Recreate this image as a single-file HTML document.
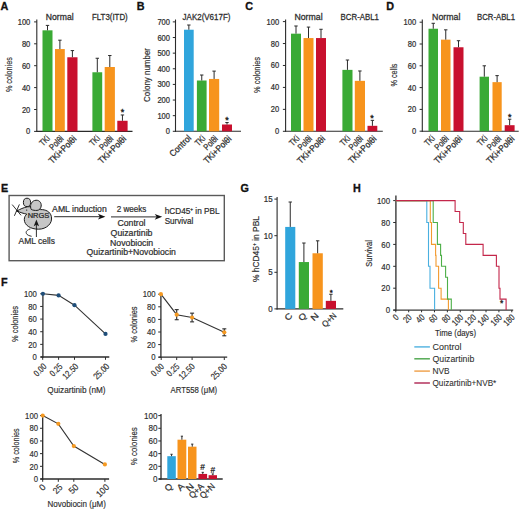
<!DOCTYPE html><html><head><meta charset="utf-8"><style>html,body{margin:0;padding:0;background:#fff;width:520px;height:510px;overflow:hidden}svg{display:block}</style></head><body><svg width="520" height="510" viewBox="0 0 520 510" font-family="'Liberation Sans', sans-serif">
<rect width="520" height="510" fill="#ffffff"/>
<text transform="translate(0.40,9.50)" font-size="10.8" text-anchor="start" font-weight="bold" fill="#111" stroke="#111" stroke-width="0.30">A</text>
<text transform="translate(136.70,9.70)" font-size="10.8" text-anchor="start" font-weight="bold" fill="#111" stroke="#111" stroke-width="0.30">B</text>
<text transform="translate(245.20,9.80)" font-size="10.8" text-anchor="start" font-weight="bold" fill="#111" stroke="#111" stroke-width="0.30">C</text>
<text transform="translate(386.20,9.60)" font-size="10.8" text-anchor="start" font-weight="bold" fill="#111" stroke="#111" stroke-width="0.30">D</text>
<text transform="translate(1.00,191.90)" font-size="10.8" text-anchor="start" font-weight="bold" fill="#111" stroke="#111" stroke-width="0.30">E</text>
<text transform="translate(1.00,286.20)" font-size="10.8" text-anchor="start" font-weight="bold" fill="#111" stroke="#111" stroke-width="0.30">F</text>
<text transform="translate(240.60,191.90)" font-size="10.8" text-anchor="start" font-weight="bold" fill="#111" stroke="#111" stroke-width="0.30">G</text>
<text transform="translate(353.00,191.90)" font-size="10.8" text-anchor="start" font-weight="bold" fill="#111" stroke="#111" stroke-width="0.30">H</text>
<line x1="36.80" y1="19.50" x2="36.80" y2="131.95" stroke="#2b2b2b" stroke-width="1.1" stroke-linecap="butt"/>
<line x1="36.30" y1="131.40" x2="132.50" y2="131.40" stroke="#2b2b2b" stroke-width="1.1" stroke-linecap="butt"/>
<line x1="34.10" y1="131.40" x2="36.80" y2="131.40" stroke="#2b2b2b" stroke-width="1" stroke-linecap="butt"/>
<text transform="translate(30.30,134.40)" font-size="8.5" text-anchor="end" font-weight="normal" fill="#2e2e2e" stroke="#2e2e2e" stroke-width="0.22" textLength="4.20" lengthAdjust="spacingAndGlyphs">0</text>
<line x1="34.10" y1="109.50" x2="36.80" y2="109.50" stroke="#2b2b2b" stroke-width="1" stroke-linecap="butt"/>
<text transform="translate(30.30,112.50)" font-size="8.5" text-anchor="end" font-weight="normal" fill="#2e2e2e" stroke="#2e2e2e" stroke-width="0.22" textLength="8.40" lengthAdjust="spacingAndGlyphs">20</text>
<line x1="34.10" y1="87.60" x2="36.80" y2="87.60" stroke="#2b2b2b" stroke-width="1" stroke-linecap="butt"/>
<text transform="translate(30.30,90.60)" font-size="8.5" text-anchor="end" font-weight="normal" fill="#2e2e2e" stroke="#2e2e2e" stroke-width="0.22" textLength="8.40" lengthAdjust="spacingAndGlyphs">40</text>
<line x1="34.10" y1="65.70" x2="36.80" y2="65.70" stroke="#2b2b2b" stroke-width="1" stroke-linecap="butt"/>
<text transform="translate(30.30,68.70)" font-size="8.5" text-anchor="end" font-weight="normal" fill="#2e2e2e" stroke="#2e2e2e" stroke-width="0.22" textLength="8.40" lengthAdjust="spacingAndGlyphs">60</text>
<line x1="34.10" y1="43.80" x2="36.80" y2="43.80" stroke="#2b2b2b" stroke-width="1" stroke-linecap="butt"/>
<text transform="translate(30.30,46.80)" font-size="8.5" text-anchor="end" font-weight="normal" fill="#2e2e2e" stroke="#2e2e2e" stroke-width="0.22" textLength="8.40" lengthAdjust="spacingAndGlyphs">80</text>
<line x1="34.10" y1="21.90" x2="36.80" y2="21.90" stroke="#2b2b2b" stroke-width="1" stroke-linecap="butt"/>
<text transform="translate(30.30,24.90)" font-size="8.5" text-anchor="end" font-weight="normal" fill="#2e2e2e" stroke="#2e2e2e" stroke-width="0.22" textLength="12.60" lengthAdjust="spacingAndGlyphs">100</text>
<rect x="42.50" y="30.33" width="10.00" height="101.07" fill="#3aaa35"/>
<line x1="47.50" y1="30.33" x2="47.50" y2="25.40" stroke="#2b2b2b" stroke-width="1.0" stroke-linecap="butt"/>
<line x1="45.80" y1="25.40" x2="49.20" y2="25.40" stroke="#2b2b2b" stroke-width="1.0" stroke-linecap="butt"/>
<rect x="55.00" y="49.06" width="9.80" height="82.34" fill="#f7941d"/>
<line x1="59.90" y1="49.06" x2="59.90" y2="40.19" stroke="#2b2b2b" stroke-width="1.0" stroke-linecap="butt"/>
<line x1="58.20" y1="40.19" x2="61.60" y2="40.19" stroke="#2b2b2b" stroke-width="1.0" stroke-linecap="butt"/>
<rect x="67.30" y="57.27" width="10.20" height="74.13" fill="#c8102e"/>
<line x1="72.40" y1="57.27" x2="72.40" y2="50.59" stroke="#2b2b2b" stroke-width="1.0" stroke-linecap="butt"/>
<line x1="70.70" y1="50.59" x2="74.10" y2="50.59" stroke="#2b2b2b" stroke-width="1.0" stroke-linecap="butt"/>
<rect x="92.40" y="72.27" width="9.80" height="59.13" fill="#3aaa35"/>
<line x1="97.30" y1="72.27" x2="97.30" y2="58.25" stroke="#2b2b2b" stroke-width="1.0" stroke-linecap="butt"/>
<line x1="95.60" y1="58.25" x2="99.00" y2="58.25" stroke="#2b2b2b" stroke-width="1.0" stroke-linecap="butt"/>
<rect x="104.70" y="67.01" width="10.20" height="64.39" fill="#f7941d"/>
<line x1="109.80" y1="67.01" x2="109.80" y2="55.52" stroke="#2b2b2b" stroke-width="1.0" stroke-linecap="butt"/>
<line x1="108.10" y1="55.52" x2="111.50" y2="55.52" stroke="#2b2b2b" stroke-width="1.0" stroke-linecap="butt"/>
<rect x="117.30" y="120.78" width="10.30" height="10.62" fill="#c8102e"/>
<line x1="122.45" y1="120.78" x2="122.45" y2="114.98" stroke="#2b2b2b" stroke-width="1.0" stroke-linecap="butt"/>
<line x1="120.75" y1="114.98" x2="124.15" y2="114.98" stroke="#2b2b2b" stroke-width="1.0" stroke-linecap="butt"/>
<text transform="translate(122.40,115.40)" font-size="9" text-anchor="middle" font-weight="normal" fill="#1a1a1a" stroke="#1a1a1a" stroke-width="0.37">*</text>
<text transform="translate(45.80,19.90)" font-size="8.8" text-anchor="start" font-weight="normal" fill="#2e2e2e" stroke="#2e2e2e" stroke-width="0.27" textLength="27.80" lengthAdjust="spacingAndGlyphs">Normal</text>
<text transform="translate(92.00,19.90)" font-size="8.8" text-anchor="start" font-weight="normal" fill="#2e2e2e" stroke="#2e2e2e" stroke-width="0.27" textLength="35.70" lengthAdjust="spacingAndGlyphs">FLT3(ITD)</text>
<text transform="translate(11.70,74.60) rotate(-90)" font-size="9.6" text-anchor="middle" font-weight="normal" fill="#2e2e2e" stroke="#2e2e2e" stroke-width="0.17" textLength="35.00" lengthAdjust="spacingAndGlyphs">% colonies</text>
<text transform="translate(50.40,139.00) rotate(-45)" font-size="9" text-anchor="end" font-weight="normal" fill="#2e2e2e" stroke="#2e2e2e" stroke-width="0.27" textLength="10.50" lengthAdjust="spacingAndGlyphs">TKi</text>
<text transform="translate(64.10,139.40) rotate(-45)" font-size="9" text-anchor="end" font-weight="normal" fill="#2e2e2e" stroke="#2e2e2e" stroke-width="0.27" textLength="16.00" lengthAdjust="spacingAndGlyphs">Pol&#952;i</text>
<text transform="translate(77.10,139.40) rotate(-45)" font-size="9" text-anchor="end" font-weight="normal" fill="#2e2e2e" stroke="#2e2e2e" stroke-width="0.27" textLength="35.30" lengthAdjust="spacingAndGlyphs">TKi+Pol&#952;i</text>
<text transform="translate(100.50,139.00) rotate(-45)" font-size="9" text-anchor="end" font-weight="normal" fill="#2e2e2e" stroke="#2e2e2e" stroke-width="0.27" textLength="10.50" lengthAdjust="spacingAndGlyphs">TKi</text>
<text transform="translate(114.00,139.40) rotate(-45)" font-size="9" text-anchor="end" font-weight="normal" fill="#2e2e2e" stroke="#2e2e2e" stroke-width="0.27" textLength="16.00" lengthAdjust="spacingAndGlyphs">Pol&#952;i</text>
<text transform="translate(126.80,139.40) rotate(-45)" font-size="9" text-anchor="end" font-weight="normal" fill="#2e2e2e" stroke="#2e2e2e" stroke-width="0.27" textLength="35.30" lengthAdjust="spacingAndGlyphs">TKi+Pol&#952;i</text>
<line x1="175.50" y1="19.50" x2="175.50" y2="131.85" stroke="#2b2b2b" stroke-width="1.1" stroke-linecap="butt"/>
<line x1="175.00" y1="131.30" x2="241.00" y2="131.30" stroke="#2b2b2b" stroke-width="1.1" stroke-linecap="butt"/>
<line x1="172.80" y1="131.30" x2="175.50" y2="131.30" stroke="#2b2b2b" stroke-width="1" stroke-linecap="butt"/>
<text transform="translate(170.00,134.30)" font-size="8.5" text-anchor="end" font-weight="normal" fill="#2e2e2e" stroke="#2e2e2e" stroke-width="0.22" textLength="4.20" lengthAdjust="spacingAndGlyphs">0</text>
<line x1="172.80" y1="115.67" x2="175.50" y2="115.67" stroke="#2b2b2b" stroke-width="1" stroke-linecap="butt"/>
<text transform="translate(170.00,118.67)" font-size="8.5" text-anchor="end" font-weight="normal" fill="#2e2e2e" stroke="#2e2e2e" stroke-width="0.22" textLength="12.60" lengthAdjust="spacingAndGlyphs">100</text>
<line x1="172.80" y1="100.04" x2="175.50" y2="100.04" stroke="#2b2b2b" stroke-width="1" stroke-linecap="butt"/>
<text transform="translate(170.00,103.04)" font-size="8.5" text-anchor="end" font-weight="normal" fill="#2e2e2e" stroke="#2e2e2e" stroke-width="0.22" textLength="12.60" lengthAdjust="spacingAndGlyphs">200</text>
<line x1="172.80" y1="84.41" x2="175.50" y2="84.41" stroke="#2b2b2b" stroke-width="1" stroke-linecap="butt"/>
<text transform="translate(170.00,87.41)" font-size="8.5" text-anchor="end" font-weight="normal" fill="#2e2e2e" stroke="#2e2e2e" stroke-width="0.22" textLength="12.60" lengthAdjust="spacingAndGlyphs">300</text>
<line x1="172.80" y1="68.78" x2="175.50" y2="68.78" stroke="#2b2b2b" stroke-width="1" stroke-linecap="butt"/>
<text transform="translate(170.00,71.78)" font-size="8.5" text-anchor="end" font-weight="normal" fill="#2e2e2e" stroke="#2e2e2e" stroke-width="0.22" textLength="12.60" lengthAdjust="spacingAndGlyphs">400</text>
<line x1="172.80" y1="53.15" x2="175.50" y2="53.15" stroke="#2b2b2b" stroke-width="1" stroke-linecap="butt"/>
<text transform="translate(170.00,56.15)" font-size="8.5" text-anchor="end" font-weight="normal" fill="#2e2e2e" stroke="#2e2e2e" stroke-width="0.22" textLength="12.60" lengthAdjust="spacingAndGlyphs">500</text>
<line x1="172.80" y1="37.52" x2="175.50" y2="37.52" stroke="#2b2b2b" stroke-width="1" stroke-linecap="butt"/>
<text transform="translate(170.00,40.52)" font-size="8.5" text-anchor="end" font-weight="normal" fill="#2e2e2e" stroke="#2e2e2e" stroke-width="0.22" textLength="12.60" lengthAdjust="spacingAndGlyphs">600</text>
<line x1="172.80" y1="21.89" x2="175.50" y2="21.89" stroke="#2b2b2b" stroke-width="1" stroke-linecap="butt"/>
<text transform="translate(170.00,24.89)" font-size="8.5" text-anchor="end" font-weight="normal" fill="#2e2e2e" stroke="#2e2e2e" stroke-width="0.22" textLength="12.60" lengthAdjust="spacingAndGlyphs">700</text>
<rect x="184.00" y="29.71" width="9.70" height="101.59" fill="#30a5dc"/>
<line x1="188.85" y1="29.71" x2="188.85" y2="25.02" stroke="#2b2b2b" stroke-width="1.0" stroke-linecap="butt"/>
<line x1="187.15" y1="25.02" x2="190.55" y2="25.02" stroke="#2b2b2b" stroke-width="1.0" stroke-linecap="butt"/>
<rect x="196.90" y="80.50" width="9.70" height="50.80" fill="#3aaa35"/>
<line x1="201.75" y1="80.50" x2="201.75" y2="75.03" stroke="#2b2b2b" stroke-width="1.0" stroke-linecap="butt"/>
<line x1="200.05" y1="75.03" x2="203.45" y2="75.03" stroke="#2b2b2b" stroke-width="1.0" stroke-linecap="butt"/>
<rect x="209.00" y="78.94" width="10.20" height="52.36" fill="#f7941d"/>
<line x1="214.10" y1="78.94" x2="214.10" y2="71.12" stroke="#2b2b2b" stroke-width="1.0" stroke-linecap="butt"/>
<line x1="212.40" y1="71.12" x2="215.80" y2="71.12" stroke="#2b2b2b" stroke-width="1.0" stroke-linecap="butt"/>
<rect x="222.00" y="124.50" width="10.00" height="6.80" fill="#c8102e"/>
<line x1="227.00" y1="124.50" x2="227.00" y2="122.55" stroke="#2b2b2b" stroke-width="1.0" stroke-linecap="butt"/>
<line x1="225.30" y1="122.55" x2="228.70" y2="122.55" stroke="#2b2b2b" stroke-width="1.0" stroke-linecap="butt"/>
<text transform="translate(227.00,123.00)" font-size="9" text-anchor="middle" font-weight="normal" fill="#1a1a1a" stroke="#1a1a1a" stroke-width="0.37">*</text>
<text transform="translate(182.60,19.90)" font-size="8.8" text-anchor="start" font-weight="normal" fill="#2e2e2e" stroke="#2e2e2e" stroke-width="0.27" textLength="47.80" lengthAdjust="spacingAndGlyphs">JAK2(V617F)</text>
<text transform="translate(149.80,75.00) rotate(-90)" font-size="9.4" text-anchor="middle" font-weight="normal" fill="#2e2e2e" stroke="#2e2e2e" stroke-width="0.17" textLength="54.00" lengthAdjust="spacingAndGlyphs">Colony number</text>
<text transform="translate(191.80,138.60) rotate(-45)" font-size="9" text-anchor="end" font-weight="normal" fill="#2e2e2e" stroke="#2e2e2e" stroke-width="0.27" textLength="26.50" lengthAdjust="spacingAndGlyphs">Control</text>
<text transform="translate(205.80,139.00) rotate(-45)" font-size="9" text-anchor="end" font-weight="normal" fill="#2e2e2e" stroke="#2e2e2e" stroke-width="0.27" textLength="10.50" lengthAdjust="spacingAndGlyphs">TKi</text>
<text transform="translate(218.40,139.40) rotate(-45)" font-size="9" text-anchor="end" font-weight="normal" fill="#2e2e2e" stroke="#2e2e2e" stroke-width="0.27" textLength="16.00" lengthAdjust="spacingAndGlyphs">Pol&#952;i</text>
<text transform="translate(232.10,139.40) rotate(-45)" font-size="9" text-anchor="end" font-weight="normal" fill="#2e2e2e" stroke="#2e2e2e" stroke-width="0.27" textLength="35.30" lengthAdjust="spacingAndGlyphs">TKi+Pol&#952;i</text>
<line x1="285.60" y1="19.50" x2="285.60" y2="131.85" stroke="#2b2b2b" stroke-width="1.1" stroke-linecap="butt"/>
<line x1="285.10" y1="131.30" x2="382.80" y2="131.30" stroke="#2b2b2b" stroke-width="1.1" stroke-linecap="butt"/>
<line x1="282.90" y1="131.30" x2="285.60" y2="131.30" stroke="#2b2b2b" stroke-width="1" stroke-linecap="butt"/>
<text transform="translate(279.20,134.30)" font-size="8.5" text-anchor="end" font-weight="normal" fill="#2e2e2e" stroke="#2e2e2e" stroke-width="0.22" textLength="4.20" lengthAdjust="spacingAndGlyphs">0</text>
<line x1="282.90" y1="109.36" x2="285.60" y2="109.36" stroke="#2b2b2b" stroke-width="1" stroke-linecap="butt"/>
<text transform="translate(279.20,112.36)" font-size="8.5" text-anchor="end" font-weight="normal" fill="#2e2e2e" stroke="#2e2e2e" stroke-width="0.22" textLength="8.40" lengthAdjust="spacingAndGlyphs">20</text>
<line x1="282.90" y1="87.42" x2="285.60" y2="87.42" stroke="#2b2b2b" stroke-width="1" stroke-linecap="butt"/>
<text transform="translate(279.20,90.42)" font-size="8.5" text-anchor="end" font-weight="normal" fill="#2e2e2e" stroke="#2e2e2e" stroke-width="0.22" textLength="8.40" lengthAdjust="spacingAndGlyphs">40</text>
<line x1="282.90" y1="65.48" x2="285.60" y2="65.48" stroke="#2b2b2b" stroke-width="1" stroke-linecap="butt"/>
<text transform="translate(279.20,68.48)" font-size="8.5" text-anchor="end" font-weight="normal" fill="#2e2e2e" stroke="#2e2e2e" stroke-width="0.22" textLength="8.40" lengthAdjust="spacingAndGlyphs">60</text>
<line x1="282.90" y1="43.54" x2="285.60" y2="43.54" stroke="#2b2b2b" stroke-width="1" stroke-linecap="butt"/>
<text transform="translate(279.20,46.54)" font-size="8.5" text-anchor="end" font-weight="normal" fill="#2e2e2e" stroke="#2e2e2e" stroke-width="0.22" textLength="8.40" lengthAdjust="spacingAndGlyphs">80</text>
<line x1="282.90" y1="21.60" x2="285.60" y2="21.60" stroke="#2b2b2b" stroke-width="1" stroke-linecap="butt"/>
<text transform="translate(279.20,24.60)" font-size="8.5" text-anchor="end" font-weight="normal" fill="#2e2e2e" stroke="#2e2e2e" stroke-width="0.22" textLength="12.60" lengthAdjust="spacingAndGlyphs">100</text>
<rect x="291.00" y="33.67" width="10.00" height="97.63" fill="#3aaa35"/>
<line x1="296.00" y1="33.67" x2="296.00" y2="25.99" stroke="#2b2b2b" stroke-width="1.0" stroke-linecap="butt"/>
<line x1="294.30" y1="25.99" x2="297.70" y2="25.99" stroke="#2b2b2b" stroke-width="1.0" stroke-linecap="butt"/>
<rect x="303.50" y="38.06" width="10.00" height="93.25" fill="#f7941d"/>
<line x1="308.50" y1="38.06" x2="308.50" y2="27.09" stroke="#2b2b2b" stroke-width="1.0" stroke-linecap="butt"/>
<line x1="306.80" y1="27.09" x2="310.20" y2="27.09" stroke="#2b2b2b" stroke-width="1.0" stroke-linecap="butt"/>
<rect x="316.00" y="38.06" width="10.00" height="93.25" fill="#c8102e"/>
<line x1="321.00" y1="38.06" x2="321.00" y2="29.28" stroke="#2b2b2b" stroke-width="1.0" stroke-linecap="butt"/>
<line x1="319.30" y1="29.28" x2="322.70" y2="29.28" stroke="#2b2b2b" stroke-width="1.0" stroke-linecap="butt"/>
<rect x="342.40" y="69.87" width="10.10" height="61.43" fill="#3aaa35"/>
<line x1="347.45" y1="69.87" x2="347.45" y2="60.00" stroke="#2b2b2b" stroke-width="1.0" stroke-linecap="butt"/>
<line x1="345.75" y1="60.00" x2="349.15" y2="60.00" stroke="#2b2b2b" stroke-width="1.0" stroke-linecap="butt"/>
<rect x="354.80" y="80.84" width="10.20" height="50.46" fill="#f7941d"/>
<line x1="359.90" y1="80.84" x2="359.90" y2="70.97" stroke="#2b2b2b" stroke-width="1.0" stroke-linecap="butt"/>
<line x1="358.20" y1="70.97" x2="361.60" y2="70.97" stroke="#2b2b2b" stroke-width="1.0" stroke-linecap="butt"/>
<rect x="367.50" y="125.82" width="9.80" height="5.48" fill="#c8102e"/>
<line x1="372.40" y1="125.82" x2="372.40" y2="120.33" stroke="#2b2b2b" stroke-width="1.0" stroke-linecap="butt"/>
<line x1="370.70" y1="120.33" x2="374.10" y2="120.33" stroke="#2b2b2b" stroke-width="1.0" stroke-linecap="butt"/>
<text transform="translate(372.00,121.00)" font-size="9" text-anchor="middle" font-weight="normal" fill="#1a1a1a" stroke="#1a1a1a" stroke-width="0.37">*</text>
<text transform="translate(294.40,19.90)" font-size="8.8" text-anchor="start" font-weight="normal" fill="#2e2e2e" stroke="#2e2e2e" stroke-width="0.27" textLength="28.20" lengthAdjust="spacingAndGlyphs">Normal</text>
<text transform="translate(340.60,19.90)" font-size="8.8" text-anchor="start" font-weight="normal" fill="#2e2e2e" stroke="#2e2e2e" stroke-width="0.27" textLength="38.30" lengthAdjust="spacingAndGlyphs">BCR-ABL1</text>
<text transform="translate(259.50,75.00) rotate(-90)" font-size="9.6" text-anchor="middle" font-weight="normal" fill="#2e2e2e" stroke="#2e2e2e" stroke-width="0.17" textLength="36.00" lengthAdjust="spacingAndGlyphs">% colonies</text>
<text transform="translate(300.20,139.00) rotate(-45)" font-size="9" text-anchor="end" font-weight="normal" fill="#2e2e2e" stroke="#2e2e2e" stroke-width="0.27" textLength="10.50" lengthAdjust="spacingAndGlyphs">TKi</text>
<text transform="translate(312.60,139.40) rotate(-45)" font-size="9" text-anchor="end" font-weight="normal" fill="#2e2e2e" stroke="#2e2e2e" stroke-width="0.27" textLength="16.00" lengthAdjust="spacingAndGlyphs">Pol&#952;i</text>
<text transform="translate(325.80,139.40) rotate(-45)" font-size="9" text-anchor="end" font-weight="normal" fill="#2e2e2e" stroke="#2e2e2e" stroke-width="0.27" textLength="35.30" lengthAdjust="spacingAndGlyphs">TKi+Pol&#952;i</text>
<text transform="translate(350.90,139.00) rotate(-45)" font-size="9" text-anchor="end" font-weight="normal" fill="#2e2e2e" stroke="#2e2e2e" stroke-width="0.27" textLength="10.50" lengthAdjust="spacingAndGlyphs">TKi</text>
<text transform="translate(363.60,139.40) rotate(-45)" font-size="9" text-anchor="end" font-weight="normal" fill="#2e2e2e" stroke="#2e2e2e" stroke-width="0.27" textLength="16.00" lengthAdjust="spacingAndGlyphs">Pol&#952;i</text>
<text transform="translate(377.00,139.40) rotate(-45)" font-size="9" text-anchor="end" font-weight="normal" fill="#2e2e2e" stroke="#2e2e2e" stroke-width="0.27" textLength="35.30" lengthAdjust="spacingAndGlyphs">TKi+Pol&#952;i</text>
<line x1="422.30" y1="19.50" x2="422.30" y2="131.75" stroke="#2b2b2b" stroke-width="1.1" stroke-linecap="butt"/>
<line x1="421.80" y1="131.20" x2="518.70" y2="131.20" stroke="#2b2b2b" stroke-width="1.1" stroke-linecap="butt"/>
<line x1="419.60" y1="131.20" x2="422.30" y2="131.20" stroke="#2b2b2b" stroke-width="1" stroke-linecap="butt"/>
<text transform="translate(416.20,134.20)" font-size="8.5" text-anchor="end" font-weight="normal" fill="#2e2e2e" stroke="#2e2e2e" stroke-width="0.22" textLength="4.20" lengthAdjust="spacingAndGlyphs">0</text>
<line x1="419.60" y1="109.40" x2="422.30" y2="109.40" stroke="#2b2b2b" stroke-width="1" stroke-linecap="butt"/>
<text transform="translate(416.20,112.40)" font-size="8.5" text-anchor="end" font-weight="normal" fill="#2e2e2e" stroke="#2e2e2e" stroke-width="0.22" textLength="8.40" lengthAdjust="spacingAndGlyphs">20</text>
<line x1="419.60" y1="87.60" x2="422.30" y2="87.60" stroke="#2b2b2b" stroke-width="1" stroke-linecap="butt"/>
<text transform="translate(416.20,90.60)" font-size="8.5" text-anchor="end" font-weight="normal" fill="#2e2e2e" stroke="#2e2e2e" stroke-width="0.22" textLength="8.40" lengthAdjust="spacingAndGlyphs">40</text>
<line x1="419.60" y1="65.80" x2="422.30" y2="65.80" stroke="#2b2b2b" stroke-width="1" stroke-linecap="butt"/>
<text transform="translate(416.20,68.80)" font-size="8.5" text-anchor="end" font-weight="normal" fill="#2e2e2e" stroke="#2e2e2e" stroke-width="0.22" textLength="8.40" lengthAdjust="spacingAndGlyphs">60</text>
<line x1="419.60" y1="44.00" x2="422.30" y2="44.00" stroke="#2b2b2b" stroke-width="1" stroke-linecap="butt"/>
<text transform="translate(416.20,47.00)" font-size="8.5" text-anchor="end" font-weight="normal" fill="#2e2e2e" stroke="#2e2e2e" stroke-width="0.22" textLength="8.40" lengthAdjust="spacingAndGlyphs">80</text>
<line x1="419.60" y1="22.20" x2="422.30" y2="22.20" stroke="#2b2b2b" stroke-width="1" stroke-linecap="butt"/>
<text transform="translate(416.20,25.20)" font-size="8.5" text-anchor="end" font-weight="normal" fill="#2e2e2e" stroke="#2e2e2e" stroke-width="0.22" textLength="12.60" lengthAdjust="spacingAndGlyphs">100</text>
<rect x="428.50" y="28.74" width="9.50" height="102.46" fill="#3aaa35"/>
<line x1="433.25" y1="28.74" x2="433.25" y2="23.29" stroke="#2b2b2b" stroke-width="1.0" stroke-linecap="butt"/>
<line x1="431.55" y1="23.29" x2="434.95" y2="23.29" stroke="#2b2b2b" stroke-width="1.0" stroke-linecap="butt"/>
<rect x="441.00" y="39.64" width="9.50" height="91.56" fill="#f7941d"/>
<line x1="445.75" y1="39.64" x2="445.75" y2="29.83" stroke="#2b2b2b" stroke-width="1.0" stroke-linecap="butt"/>
<line x1="444.05" y1="29.83" x2="447.45" y2="29.83" stroke="#2b2b2b" stroke-width="1.0" stroke-linecap="butt"/>
<rect x="453.50" y="47.27" width="10.00" height="83.93" fill="#c8102e"/>
<line x1="458.50" y1="47.27" x2="458.50" y2="40.73" stroke="#2b2b2b" stroke-width="1.0" stroke-linecap="butt"/>
<line x1="456.80" y1="40.73" x2="460.20" y2="40.73" stroke="#2b2b2b" stroke-width="1.0" stroke-linecap="butt"/>
<rect x="479.60" y="76.70" width="9.40" height="54.50" fill="#3aaa35"/>
<line x1="484.30" y1="76.70" x2="484.30" y2="65.80" stroke="#2b2b2b" stroke-width="1.0" stroke-linecap="butt"/>
<line x1="482.60" y1="65.80" x2="486.00" y2="65.80" stroke="#2b2b2b" stroke-width="1.0" stroke-linecap="butt"/>
<rect x="492.50" y="82.15" width="9.20" height="49.05" fill="#f7941d"/>
<line x1="497.10" y1="82.15" x2="497.10" y2="75.61" stroke="#2b2b2b" stroke-width="1.0" stroke-linecap="butt"/>
<line x1="495.40" y1="75.61" x2="498.80" y2="75.61" stroke="#2b2b2b" stroke-width="1.0" stroke-linecap="butt"/>
<rect x="504.70" y="125.20" width="9.90" height="6.00" fill="#c8102e"/>
<line x1="509.65" y1="125.20" x2="509.65" y2="119.21" stroke="#2b2b2b" stroke-width="1.0" stroke-linecap="butt"/>
<line x1="507.95" y1="119.21" x2="511.35" y2="119.21" stroke="#2b2b2b" stroke-width="1.0" stroke-linecap="butt"/>
<text transform="translate(509.80,119.50)" font-size="9" text-anchor="middle" font-weight="normal" fill="#1a1a1a" stroke="#1a1a1a" stroke-width="0.37">*</text>
<text transform="translate(432.10,19.90)" font-size="8.8" text-anchor="start" font-weight="normal" fill="#2e2e2e" stroke="#2e2e2e" stroke-width="0.27" textLength="28.30" lengthAdjust="spacingAndGlyphs">Normal</text>
<text transform="translate(477.10,19.90)" font-size="8.8" text-anchor="start" font-weight="normal" fill="#2e2e2e" stroke="#2e2e2e" stroke-width="0.27" textLength="37.90" lengthAdjust="spacingAndGlyphs">BCR-ABL1</text>
<text transform="translate(397.00,75.00) rotate(-90)" font-size="9.6" text-anchor="middle" font-weight="normal" fill="#2e2e2e" stroke="#2e2e2e" stroke-width="0.17" textLength="23.00" lengthAdjust="spacingAndGlyphs">% cells</text>
<text transform="translate(435.40,139.00) rotate(-45)" font-size="9" text-anchor="end" font-weight="normal" fill="#2e2e2e" stroke="#2e2e2e" stroke-width="0.27" textLength="10.50" lengthAdjust="spacingAndGlyphs">TKi</text>
<text transform="translate(449.30,139.40) rotate(-45)" font-size="9" text-anchor="end" font-weight="normal" fill="#2e2e2e" stroke="#2e2e2e" stroke-width="0.27" textLength="16.00" lengthAdjust="spacingAndGlyphs">Pol&#952;i</text>
<text transform="translate(462.70,139.40) rotate(-45)" font-size="9" text-anchor="end" font-weight="normal" fill="#2e2e2e" stroke="#2e2e2e" stroke-width="0.27" textLength="35.30" lengthAdjust="spacingAndGlyphs">TKi+Pol&#952;i</text>
<text transform="translate(488.10,139.00) rotate(-45)" font-size="9" text-anchor="end" font-weight="normal" fill="#2e2e2e" stroke="#2e2e2e" stroke-width="0.27" textLength="10.50" lengthAdjust="spacingAndGlyphs">TKi</text>
<text transform="translate(501.90,139.40) rotate(-45)" font-size="9" text-anchor="end" font-weight="normal" fill="#2e2e2e" stroke="#2e2e2e" stroke-width="0.27" textLength="16.00" lengthAdjust="spacingAndGlyphs">Pol&#952;i</text>
<text transform="translate(515.00,139.40) rotate(-45)" font-size="9" text-anchor="end" font-weight="normal" fill="#2e2e2e" stroke="#2e2e2e" stroke-width="0.27" textLength="35.30" lengthAdjust="spacingAndGlyphs">TKi+Pol&#952;i</text>
<rect x="9.1" y="195.5" width="215.2" height="65.2" fill="none" stroke="#5a5a5a" stroke-width="1.4"/>
<ellipse cx="27.0" cy="202.4" rx="3.6" ry="4.2" fill="#c6c6c6" stroke="#1a1a1a" stroke-width="1.0"/>
<path d="M17.1,210.9 C20,209.2 23.5,207.6 27.5,206.8 L34,206.5 L40.5,209.6 C45.5,209.4 50.2,211.5 51.4,216.5 C52.8,223.5 46.5,229.2 38.5,229.2 C30.5,229.2 24.3,225.2 24.3,219.6 C24.3,217.2 25.3,215.4 26.8,214.2 C23.5,213.4 20.2,212.6 17.1,210.9 Z" fill="#c6c6c6" stroke="#1a1a1a" stroke-width="1.0" stroke-linejoin="round"/>
<path d="M31.2,209.4 C29.8,206.5 30.6,201.8 34.6,200.5 C38.6,199.3 41.6,202.2 41.2,206 C40.9,208.8 39,210.3 37,210.4 C35,210.5 32.8,210.3 31.2,209.4 Z" fill="#c6c6c6" stroke="#1a1a1a" stroke-width="1.0" stroke-linejoin="round"/>
<path d="M30.4,229 C27.5,229.6 25.6,231.3 26.3,233.3 C27,235.2 29.5,235.8 31.6,236.3" fill="none" stroke="#1a1a1a" stroke-width="0.9"/>
<line x1="12.20" y1="204.60" x2="21.00" y2="215.30" stroke="#1a1a1a" stroke-width="0.9" stroke-linecap="butt"/>
<line x1="19.40" y1="204.40" x2="14.40" y2="215.80" stroke="#1a1a1a" stroke-width="0.9" stroke-linecap="butt"/>
<circle cx="17.2" cy="210.9" r="1.0" fill="#1a1a1a"/>
<circle cx="26.7" cy="210.1" r="0.65" fill="#1a1a1a"/>
<text transform="translate(27.70,218.30)" font-size="6.8" text-anchor="start" font-weight="normal" fill="#222" stroke="#222" stroke-width="0.22" textLength="21.60" lengthAdjust="spacingAndGlyphs">NRGS</text>
<line x1="36.40" y1="237.00" x2="36.40" y2="224.00" stroke="#1a1a1a" stroke-width="0.9" stroke-linecap="butt"/>
<path d="M36.4,219.6 L39.1,226.2 L36.4,224.8 L33.7,226.2 Z" fill="#1a1a1a"/>
<text transform="translate(18.60,244.20)" font-size="8.7" text-anchor="start" font-weight="normal" fill="#2e2e2e" stroke="#2e2e2e" stroke-width="0.22" textLength="36.40" lengthAdjust="spacingAndGlyphs">AML cells</text>
<line x1="54.20" y1="216.70" x2="101.40" y2="216.70" stroke="#555" stroke-width="1.3" stroke-linecap="butt"/>
<path d="M105.4,216.7 L97.9,213.79999999999998 L99.9,216.7 L97.9,219.6 Z" fill="#111"/>
<line x1="111.00" y1="216.80" x2="158.20" y2="216.80" stroke="#555" stroke-width="1.3" stroke-linecap="butt"/>
<path d="M162.2,216.8 L154.7,213.9 L156.7,216.8 L154.7,219.70000000000002 Z" fill="#111"/>
<text transform="translate(52.10,211.50)" font-size="8.7" text-anchor="start" font-weight="normal" fill="#2e2e2e" stroke="#2e2e2e" stroke-width="0.22" textLength="54.60" lengthAdjust="spacingAndGlyphs">AML induction</text>
<text transform="translate(116.70,211.80)" font-size="8.7" text-anchor="start" font-weight="normal" fill="#2e2e2e" stroke="#2e2e2e" stroke-width="0.22" textLength="29.70" lengthAdjust="spacingAndGlyphs">2 weeks</text>
<text transform="translate(117.40,225.80)" font-size="8.7" text-anchor="start" font-weight="normal" fill="#2e2e2e" stroke="#2e2e2e" stroke-width="0.22" textLength="28.10" lengthAdjust="spacingAndGlyphs">Control</text>
<text transform="translate(110.60,235.70)" font-size="8.7" text-anchor="start" font-weight="normal" fill="#2e2e2e" stroke="#2e2e2e" stroke-width="0.22" textLength="41.90" lengthAdjust="spacingAndGlyphs">Quizartinib</text>
<text transform="translate(110.00,245.60)" font-size="8.7" text-anchor="start" font-weight="normal" fill="#2e2e2e" stroke="#2e2e2e" stroke-width="0.22" textLength="43.20" lengthAdjust="spacingAndGlyphs">Novobiocin</text>
<text transform="translate(86.60,255.30)" font-size="8.7" text-anchor="start" font-weight="normal" fill="#2e2e2e" stroke="#2e2e2e" stroke-width="0.22" textLength="89.30" lengthAdjust="spacingAndGlyphs">Quizartinib+Novobiocin</text>
<text transform="translate(164.70,213.90)" font-size="8.7" text-anchor="start" font-weight="normal" fill="#2e2e2e" stroke="#2e2e2e" stroke-width="0.22" textLength="54.90" lengthAdjust="spacingAndGlyphs">hCD45<tspan dy="-3" font-size="5">+</tspan><tspan dy="3"> in PBL</tspan></text>
<text transform="translate(164.70,224.00)" font-size="8.7" text-anchor="start" font-weight="normal" fill="#2e2e2e" stroke="#2e2e2e" stroke-width="0.22" textLength="28.70" lengthAdjust="spacingAndGlyphs">Survival</text>
<line x1="42.90" y1="292.50" x2="42.90" y2="357.65" stroke="#2b2b2b" stroke-width="1.3" stroke-linecap="butt"/>
<line x1="40.60" y1="357.00" x2="109.30" y2="357.00" stroke="#2b2b2b" stroke-width="1.3" stroke-linecap="butt"/>
<line x1="40.20" y1="357.00" x2="42.90" y2="357.00" stroke="#2b2b2b" stroke-width="1" stroke-linecap="butt"/>
<text transform="translate(36.80,360.20)" font-size="9" text-anchor="end" font-weight="normal" fill="#2e2e2e" stroke="#2e2e2e" stroke-width="0.17" textLength="4.30" lengthAdjust="spacingAndGlyphs">0</text>
<line x1="40.20" y1="344.36" x2="42.90" y2="344.36" stroke="#2b2b2b" stroke-width="1" stroke-linecap="butt"/>
<text transform="translate(36.80,347.56)" font-size="9" text-anchor="end" font-weight="normal" fill="#2e2e2e" stroke="#2e2e2e" stroke-width="0.17" textLength="8.60" lengthAdjust="spacingAndGlyphs">20</text>
<line x1="40.20" y1="331.72" x2="42.90" y2="331.72" stroke="#2b2b2b" stroke-width="1" stroke-linecap="butt"/>
<text transform="translate(36.80,334.92)" font-size="9" text-anchor="end" font-weight="normal" fill="#2e2e2e" stroke="#2e2e2e" stroke-width="0.17" textLength="8.60" lengthAdjust="spacingAndGlyphs">40</text>
<line x1="40.20" y1="319.08" x2="42.90" y2="319.08" stroke="#2b2b2b" stroke-width="1" stroke-linecap="butt"/>
<text transform="translate(36.80,322.28)" font-size="9" text-anchor="end" font-weight="normal" fill="#2e2e2e" stroke="#2e2e2e" stroke-width="0.17" textLength="8.60" lengthAdjust="spacingAndGlyphs">60</text>
<line x1="40.20" y1="306.44" x2="42.90" y2="306.44" stroke="#2b2b2b" stroke-width="1" stroke-linecap="butt"/>
<text transform="translate(36.80,309.64)" font-size="9" text-anchor="end" font-weight="normal" fill="#2e2e2e" stroke="#2e2e2e" stroke-width="0.17" textLength="8.60" lengthAdjust="spacingAndGlyphs">80</text>
<line x1="40.20" y1="293.80" x2="42.90" y2="293.80" stroke="#2b2b2b" stroke-width="1" stroke-linecap="butt"/>
<text transform="translate(36.80,297.00)" font-size="9" text-anchor="end" font-weight="normal" fill="#2e2e2e" stroke="#2e2e2e" stroke-width="0.17" textLength="12.90" lengthAdjust="spacingAndGlyphs">100</text>
<line x1="42.70" y1="357.00" x2="42.70" y2="359.80" stroke="#2b2b2b" stroke-width="1" stroke-linecap="butt"/>
<line x1="58.60" y1="357.00" x2="58.60" y2="359.80" stroke="#2b2b2b" stroke-width="1" stroke-linecap="butt"/>
<line x1="74.50" y1="357.00" x2="74.50" y2="359.80" stroke="#2b2b2b" stroke-width="1" stroke-linecap="butt"/>
<line x1="105.50" y1="357.00" x2="105.50" y2="359.80" stroke="#2b2b2b" stroke-width="1" stroke-linecap="butt"/>
<text transform="translate(47.20,367.00) rotate(-45)" font-size="9" text-anchor="end" font-weight="normal" fill="#2e2e2e" stroke="#2e2e2e" stroke-width="0.17" textLength="14.00" lengthAdjust="spacingAndGlyphs">0.00</text>
<text transform="translate(63.10,367.00) rotate(-45)" font-size="9" text-anchor="end" font-weight="normal" fill="#2e2e2e" stroke="#2e2e2e" stroke-width="0.17" textLength="14.00" lengthAdjust="spacingAndGlyphs">0.25</text>
<text transform="translate(79.00,367.00) rotate(-45)" font-size="9" text-anchor="end" font-weight="normal" fill="#2e2e2e" stroke="#2e2e2e" stroke-width="0.17" textLength="18.50" lengthAdjust="spacingAndGlyphs">12.50</text>
<text transform="translate(110.00,367.00) rotate(-45)" font-size="9" text-anchor="end" font-weight="normal" fill="#2e2e2e" stroke="#2e2e2e" stroke-width="0.17" textLength="18.50" lengthAdjust="spacingAndGlyphs">25.00</text>
<polyline points="42.90,293.80 58.60,295.38 74.50,305.18 105.50,333.93" fill="none" stroke="#333" stroke-width="1.1" stroke-linejoin="miter"/>
<circle cx="42.90" cy="293.80" r="2.1" fill="#1f4e79"/>
<circle cx="58.60" cy="295.38" r="2.1" fill="#1f4e79"/>
<circle cx="74.50" cy="305.18" r="2.1" fill="#1f4e79"/>
<circle cx="105.50" cy="333.93" r="2.1" fill="#1f4e79"/>
<text transform="translate(47.30,393.40)" font-size="9.6" text-anchor="start" font-weight="normal" fill="#2e2e2e" stroke="#2e2e2e" stroke-width="0.17" textLength="58.30" lengthAdjust="spacingAndGlyphs">Quizartinib (nM)</text>
<text transform="translate(18.30,324.00) rotate(-90)" font-size="9.8" text-anchor="middle" font-weight="normal" fill="#2e2e2e" stroke="#2e2e2e" stroke-width="0.17" textLength="36.00" lengthAdjust="spacingAndGlyphs">% colonies</text>
<line x1="160.90" y1="292.90" x2="160.90" y2="357.85" stroke="#2b2b2b" stroke-width="1.3" stroke-linecap="butt"/>
<line x1="158.60" y1="357.20" x2="227.20" y2="357.20" stroke="#2b2b2b" stroke-width="1.3" stroke-linecap="butt"/>
<line x1="158.20" y1="357.20" x2="160.90" y2="357.20" stroke="#2b2b2b" stroke-width="1" stroke-linecap="butt"/>
<text transform="translate(155.60,360.40)" font-size="9" text-anchor="end" font-weight="normal" fill="#2e2e2e" stroke="#2e2e2e" stroke-width="0.17" textLength="4.30" lengthAdjust="spacingAndGlyphs">0</text>
<line x1="158.20" y1="344.60" x2="160.90" y2="344.60" stroke="#2b2b2b" stroke-width="1" stroke-linecap="butt"/>
<text transform="translate(155.60,347.80)" font-size="9" text-anchor="end" font-weight="normal" fill="#2e2e2e" stroke="#2e2e2e" stroke-width="0.17" textLength="8.60" lengthAdjust="spacingAndGlyphs">20</text>
<line x1="158.20" y1="332.00" x2="160.90" y2="332.00" stroke="#2b2b2b" stroke-width="1" stroke-linecap="butt"/>
<text transform="translate(155.60,335.20)" font-size="9" text-anchor="end" font-weight="normal" fill="#2e2e2e" stroke="#2e2e2e" stroke-width="0.17" textLength="8.60" lengthAdjust="spacingAndGlyphs">40</text>
<line x1="158.20" y1="319.40" x2="160.90" y2="319.40" stroke="#2b2b2b" stroke-width="1" stroke-linecap="butt"/>
<text transform="translate(155.60,322.60)" font-size="9" text-anchor="end" font-weight="normal" fill="#2e2e2e" stroke="#2e2e2e" stroke-width="0.17" textLength="8.60" lengthAdjust="spacingAndGlyphs">60</text>
<line x1="158.20" y1="306.80" x2="160.90" y2="306.80" stroke="#2b2b2b" stroke-width="1" stroke-linecap="butt"/>
<text transform="translate(155.60,310.00)" font-size="9" text-anchor="end" font-weight="normal" fill="#2e2e2e" stroke="#2e2e2e" stroke-width="0.17" textLength="8.60" lengthAdjust="spacingAndGlyphs">80</text>
<line x1="158.20" y1="294.20" x2="160.90" y2="294.20" stroke="#2b2b2b" stroke-width="1" stroke-linecap="butt"/>
<text transform="translate(155.60,297.40)" font-size="9" text-anchor="end" font-weight="normal" fill="#2e2e2e" stroke="#2e2e2e" stroke-width="0.17" textLength="12.90" lengthAdjust="spacingAndGlyphs">100</text>
<line x1="161.20" y1="357.20" x2="161.20" y2="360.00" stroke="#2b2b2b" stroke-width="1" stroke-linecap="butt"/>
<line x1="176.70" y1="357.20" x2="176.70" y2="360.00" stroke="#2b2b2b" stroke-width="1" stroke-linecap="butt"/>
<line x1="192.10" y1="357.20" x2="192.10" y2="360.00" stroke="#2b2b2b" stroke-width="1" stroke-linecap="butt"/>
<line x1="224.30" y1="357.20" x2="224.30" y2="360.00" stroke="#2b2b2b" stroke-width="1" stroke-linecap="butt"/>
<text transform="translate(164.50,367.20) rotate(-45)" font-size="9" text-anchor="end" font-weight="normal" fill="#2e2e2e" stroke="#2e2e2e" stroke-width="0.17" textLength="14.00" lengthAdjust="spacingAndGlyphs">0.00</text>
<text transform="translate(180.00,367.20) rotate(-45)" font-size="9" text-anchor="end" font-weight="normal" fill="#2e2e2e" stroke="#2e2e2e" stroke-width="0.17" textLength="14.00" lengthAdjust="spacingAndGlyphs">0.25</text>
<text transform="translate(195.40,367.20) rotate(-45)" font-size="9" text-anchor="end" font-weight="normal" fill="#2e2e2e" stroke="#2e2e2e" stroke-width="0.17" textLength="18.50" lengthAdjust="spacingAndGlyphs">12.50</text>
<text transform="translate(227.60,367.20) rotate(-45)" font-size="9" text-anchor="end" font-weight="normal" fill="#2e2e2e" stroke="#2e2e2e" stroke-width="0.17" textLength="18.50" lengthAdjust="spacingAndGlyphs">25.00</text>
<polyline points="160.90,294.20 176.70,314.68 192.10,317.51 224.30,332.31" fill="none" stroke="#333" stroke-width="1.1" stroke-linejoin="miter"/>
<line x1="176.70" y1="309.63" x2="176.70" y2="319.72" stroke="#2a2a2a" stroke-width="1.1" stroke-linecap="butt"/>
<line x1="174.70" y1="309.63" x2="178.70" y2="309.63" stroke="#2a2a2a" stroke-width="1.1" stroke-linecap="butt"/>
<line x1="174.70" y1="319.72" x2="178.70" y2="319.72" stroke="#2a2a2a" stroke-width="1.1" stroke-linecap="butt"/>
<line x1="192.10" y1="313.16" x2="192.10" y2="321.86" stroke="#2a2a2a" stroke-width="1.1" stroke-linecap="butt"/>
<line x1="190.10" y1="313.16" x2="194.10" y2="313.16" stroke="#2a2a2a" stroke-width="1.1" stroke-linecap="butt"/>
<line x1="190.10" y1="321.86" x2="194.10" y2="321.86" stroke="#2a2a2a" stroke-width="1.1" stroke-linecap="butt"/>
<line x1="224.30" y1="328.85" x2="224.30" y2="335.78" stroke="#2a2a2a" stroke-width="1.1" stroke-linecap="butt"/>
<line x1="222.30" y1="328.85" x2="226.30" y2="328.85" stroke="#2a2a2a" stroke-width="1.1" stroke-linecap="butt"/>
<line x1="222.30" y1="335.78" x2="226.30" y2="335.78" stroke="#2a2a2a" stroke-width="1.1" stroke-linecap="butt"/>
<circle cx="160.90" cy="294.20" r="2.1" fill="#f59a23"/>
<circle cx="176.70" cy="314.68" r="2.1" fill="#f59a23"/>
<circle cx="192.10" cy="317.51" r="2.1" fill="#f59a23"/>
<circle cx="224.30" cy="332.31" r="2.1" fill="#f59a23"/>
<text transform="translate(170.60,393.30)" font-size="9.6" text-anchor="start" font-weight="normal" fill="#2e2e2e" stroke="#2e2e2e" stroke-width="0.17" textLength="46.60" lengthAdjust="spacingAndGlyphs">ART558 (&#956;M)</text>
<text transform="translate(136.90,324.50) rotate(-90)" font-size="9.8" text-anchor="middle" font-weight="normal" fill="#2e2e2e" stroke="#2e2e2e" stroke-width="0.17" textLength="36.00" lengthAdjust="spacingAndGlyphs">% colonies</text>
<line x1="42.70" y1="414.30" x2="42.70" y2="479.65" stroke="#2b2b2b" stroke-width="1.3" stroke-linecap="butt"/>
<line x1="40.40" y1="479.00" x2="109.10" y2="479.00" stroke="#2b2b2b" stroke-width="1.3" stroke-linecap="butt"/>
<line x1="40.00" y1="479.00" x2="42.70" y2="479.00" stroke="#2b2b2b" stroke-width="1" stroke-linecap="butt"/>
<text transform="translate(38.00,482.20)" font-size="9" text-anchor="end" font-weight="normal" fill="#2e2e2e" stroke="#2e2e2e" stroke-width="0.17" textLength="4.30" lengthAdjust="spacingAndGlyphs">0</text>
<line x1="40.00" y1="466.32" x2="42.70" y2="466.32" stroke="#2b2b2b" stroke-width="1" stroke-linecap="butt"/>
<text transform="translate(38.00,469.52)" font-size="9" text-anchor="end" font-weight="normal" fill="#2e2e2e" stroke="#2e2e2e" stroke-width="0.17" textLength="8.60" lengthAdjust="spacingAndGlyphs">20</text>
<line x1="40.00" y1="453.64" x2="42.70" y2="453.64" stroke="#2b2b2b" stroke-width="1" stroke-linecap="butt"/>
<text transform="translate(38.00,456.84)" font-size="9" text-anchor="end" font-weight="normal" fill="#2e2e2e" stroke="#2e2e2e" stroke-width="0.17" textLength="8.60" lengthAdjust="spacingAndGlyphs">40</text>
<line x1="40.00" y1="440.96" x2="42.70" y2="440.96" stroke="#2b2b2b" stroke-width="1" stroke-linecap="butt"/>
<text transform="translate(38.00,444.16)" font-size="9" text-anchor="end" font-weight="normal" fill="#2e2e2e" stroke="#2e2e2e" stroke-width="0.17" textLength="8.60" lengthAdjust="spacingAndGlyphs">60</text>
<line x1="40.00" y1="428.28" x2="42.70" y2="428.28" stroke="#2b2b2b" stroke-width="1" stroke-linecap="butt"/>
<text transform="translate(38.00,431.48)" font-size="9" text-anchor="end" font-weight="normal" fill="#2e2e2e" stroke="#2e2e2e" stroke-width="0.17" textLength="8.60" lengthAdjust="spacingAndGlyphs">80</text>
<line x1="40.00" y1="415.60" x2="42.70" y2="415.60" stroke="#2b2b2b" stroke-width="1" stroke-linecap="butt"/>
<text transform="translate(38.00,418.80)" font-size="9" text-anchor="end" font-weight="normal" fill="#2e2e2e" stroke="#2e2e2e" stroke-width="0.17" textLength="12.90" lengthAdjust="spacingAndGlyphs">100</text>
<line x1="42.70" y1="479.00" x2="42.70" y2="481.80" stroke="#2b2b2b" stroke-width="1" stroke-linecap="butt"/>
<line x1="58.30" y1="479.00" x2="58.30" y2="481.80" stroke="#2b2b2b" stroke-width="1" stroke-linecap="butt"/>
<line x1="73.80" y1="479.00" x2="73.80" y2="481.80" stroke="#2b2b2b" stroke-width="1" stroke-linecap="butt"/>
<line x1="104.90" y1="479.00" x2="104.90" y2="481.80" stroke="#2b2b2b" stroke-width="1" stroke-linecap="butt"/>
<text transform="translate(46.30,487.80) rotate(-45)" font-size="9" text-anchor="end" font-weight="normal" fill="#2e2e2e" stroke="#2e2e2e" stroke-width="0.17" textLength="5.00" lengthAdjust="spacingAndGlyphs">0</text>
<text transform="translate(63.20,487.80) rotate(-45)" font-size="9" text-anchor="end" font-weight="normal" fill="#2e2e2e" stroke="#2e2e2e" stroke-width="0.17" textLength="9.50" lengthAdjust="spacingAndGlyphs">25</text>
<text transform="translate(79.00,487.80) rotate(-45)" font-size="9" text-anchor="end" font-weight="normal" fill="#2e2e2e" stroke="#2e2e2e" stroke-width="0.17" textLength="9.50" lengthAdjust="spacingAndGlyphs">50</text>
<text transform="translate(109.70,487.80) rotate(-45)" font-size="9" text-anchor="end" font-weight="normal" fill="#2e2e2e" stroke="#2e2e2e" stroke-width="0.17" textLength="14.00" lengthAdjust="spacingAndGlyphs">100</text>
<polyline points="42.70,415.60 58.30,423.84 73.80,446.03 104.90,464.42" fill="none" stroke="#333" stroke-width="1.1" stroke-linejoin="miter"/>
<circle cx="42.70" cy="415.60" r="2.1" fill="#f59a23"/>
<circle cx="58.30" cy="423.84" r="2.1" fill="#f59a23"/>
<circle cx="73.80" cy="446.03" r="2.1" fill="#f59a23"/>
<circle cx="104.90" cy="464.42" r="2.1" fill="#f59a23"/>
<text transform="translate(47.50,506.90)" font-size="9.6" text-anchor="start" font-weight="normal" fill="#2e2e2e" stroke="#2e2e2e" stroke-width="0.17" textLength="58.40" lengthAdjust="spacingAndGlyphs">Novobiocin (&#956;M)</text>
<text transform="translate(18.80,445.80) rotate(-90)" font-size="9.8" text-anchor="middle" font-weight="normal" fill="#2e2e2e" stroke="#2e2e2e" stroke-width="0.17" textLength="35.00" lengthAdjust="spacingAndGlyphs">% colonies</text>
<line x1="161.00" y1="413.90" x2="161.00" y2="479.65" stroke="#2b2b2b" stroke-width="1.3" stroke-linecap="butt"/>
<line x1="158.70" y1="479.00" x2="222.70" y2="479.00" stroke="#2b2b2b" stroke-width="1.3" stroke-linecap="butt"/>
<line x1="158.30" y1="479.00" x2="161.00" y2="479.00" stroke="#2b2b2b" stroke-width="1" stroke-linecap="butt"/>
<text transform="translate(157.60,482.20)" font-size="9" text-anchor="end" font-weight="normal" fill="#2e2e2e" stroke="#2e2e2e" stroke-width="0.17" textLength="4.50" lengthAdjust="spacingAndGlyphs">0</text>
<line x1="158.30" y1="466.32" x2="161.00" y2="466.32" stroke="#2b2b2b" stroke-width="1" stroke-linecap="butt"/>
<text transform="translate(157.60,469.52)" font-size="9" text-anchor="end" font-weight="normal" fill="#2e2e2e" stroke="#2e2e2e" stroke-width="0.17" textLength="9.00" lengthAdjust="spacingAndGlyphs">20</text>
<line x1="158.30" y1="453.64" x2="161.00" y2="453.64" stroke="#2b2b2b" stroke-width="1" stroke-linecap="butt"/>
<text transform="translate(157.60,456.84)" font-size="9" text-anchor="end" font-weight="normal" fill="#2e2e2e" stroke="#2e2e2e" stroke-width="0.17" textLength="9.00" lengthAdjust="spacingAndGlyphs">40</text>
<line x1="158.30" y1="440.96" x2="161.00" y2="440.96" stroke="#2b2b2b" stroke-width="1" stroke-linecap="butt"/>
<text transform="translate(157.60,444.16)" font-size="9" text-anchor="end" font-weight="normal" fill="#2e2e2e" stroke="#2e2e2e" stroke-width="0.17" textLength="9.00" lengthAdjust="spacingAndGlyphs">60</text>
<line x1="158.30" y1="428.28" x2="161.00" y2="428.28" stroke="#2b2b2b" stroke-width="1" stroke-linecap="butt"/>
<text transform="translate(157.60,431.48)" font-size="9" text-anchor="end" font-weight="normal" fill="#2e2e2e" stroke="#2e2e2e" stroke-width="0.17" textLength="9.00" lengthAdjust="spacingAndGlyphs">80</text>
<line x1="158.30" y1="415.60" x2="161.00" y2="415.60" stroke="#2b2b2b" stroke-width="1" stroke-linecap="butt"/>
<text transform="translate(157.60,418.80)" font-size="9" text-anchor="end" font-weight="normal" fill="#2e2e2e" stroke="#2e2e2e" stroke-width="0.17" textLength="13.50" lengthAdjust="spacingAndGlyphs">100</text>
<rect x="167.30" y="456.18" width="8.50" height="22.82" fill="#30a5dc"/>
<line x1="171.55" y1="456.18" x2="171.55" y2="454.27" stroke="#2b2b2b" stroke-width="1.0" stroke-linecap="butt"/>
<line x1="170.45" y1="454.27" x2="172.65" y2="454.27" stroke="#2b2b2b" stroke-width="1.0" stroke-linecap="butt"/>
<rect x="177.50" y="439.69" width="8.80" height="39.31" fill="#f7941d"/>
<line x1="181.90" y1="439.69" x2="181.90" y2="436.20" stroke="#2b2b2b" stroke-width="1.0" stroke-linecap="butt"/>
<line x1="180.80" y1="436.20" x2="183.00" y2="436.20" stroke="#2b2b2b" stroke-width="1.0" stroke-linecap="butt"/>
<rect x="188.00" y="446.67" width="8.50" height="32.33" fill="#f7941d"/>
<line x1="192.25" y1="446.67" x2="192.25" y2="444.13" stroke="#2b2b2b" stroke-width="1.0" stroke-linecap="butt"/>
<line x1="191.15" y1="444.13" x2="193.35" y2="444.13" stroke="#2b2b2b" stroke-width="1.0" stroke-linecap="butt"/>
<rect x="198.40" y="473.93" width="8.70" height="5.07" fill="#c8102e"/>
<line x1="202.75" y1="473.93" x2="202.75" y2="472.34" stroke="#2b2b2b" stroke-width="1.0" stroke-linecap="butt"/>
<line x1="201.65" y1="472.34" x2="203.85" y2="472.34" stroke="#2b2b2b" stroke-width="1.0" stroke-linecap="butt"/>
<rect x="208.60" y="475.20" width="8.40" height="3.80" fill="#c8102e"/>
<line x1="212.80" y1="475.20" x2="212.80" y2="473.93" stroke="#2b2b2b" stroke-width="1.0" stroke-linecap="butt"/>
<line x1="211.70" y1="473.93" x2="213.90" y2="473.93" stroke="#2b2b2b" stroke-width="1.0" stroke-linecap="butt"/>
<text transform="translate(202.70,470.40)" font-size="8.4" text-anchor="middle" font-weight="normal" fill="#222" stroke="#222" stroke-width="0.22">#</text>
<text transform="translate(212.90,472.60)" font-size="8.4" text-anchor="middle" font-weight="normal" fill="#222" stroke="#222" stroke-width="0.22">#</text>
<text transform="translate(136.60,446.20) rotate(-90)" font-size="9.8" text-anchor="middle" font-weight="normal" fill="#2e2e2e" stroke="#2e2e2e" stroke-width="0.17" textLength="38.00" lengthAdjust="spacingAndGlyphs">% colonies</text>
<text transform="translate(173.10,487.00) rotate(-45)" font-size="9" text-anchor="end" font-weight="normal" fill="#2e2e2e" stroke="#2e2e2e" stroke-width="0.22" textLength="7.00" lengthAdjust="spacingAndGlyphs">Q</text>
<text transform="translate(185.00,487.00) rotate(-45)" font-size="9" text-anchor="end" font-weight="normal" fill="#2e2e2e" stroke="#2e2e2e" stroke-width="0.22" textLength="6.50" lengthAdjust="spacingAndGlyphs">A</text>
<text transform="translate(194.40,487.00) rotate(-45)" font-size="9" text-anchor="end" font-weight="normal" fill="#2e2e2e" stroke="#2e2e2e" stroke-width="0.22" textLength="7.00" lengthAdjust="spacingAndGlyphs">N</text>
<text transform="translate(204.40,487.00) rotate(-45)" font-size="9" text-anchor="end" font-weight="normal" fill="#2e2e2e" stroke="#2e2e2e" stroke-width="0.22" textLength="17.00" lengthAdjust="spacingAndGlyphs">Q+A</text>
<text transform="translate(215.60,487.00) rotate(-45)" font-size="9" text-anchor="end" font-weight="normal" fill="#2e2e2e" stroke="#2e2e2e" stroke-width="0.22" textLength="17.50" lengthAdjust="spacingAndGlyphs">Q+N</text>
<line x1="277.10" y1="196.90" x2="277.10" y2="309.45" stroke="#2b2b2b" stroke-width="1.1" stroke-linecap="butt"/>
<line x1="276.60" y1="308.90" x2="343.30" y2="308.90" stroke="#2b2b2b" stroke-width="1.1" stroke-linecap="butt"/>
<line x1="274.40" y1="308.90" x2="277.10" y2="308.90" stroke="#2b2b2b" stroke-width="1" stroke-linecap="butt"/>
<text transform="translate(272.60,311.90)" font-size="8.5" text-anchor="end" font-weight="normal" fill="#2e2e2e" stroke="#2e2e2e" stroke-width="0.22" textLength="4.40" lengthAdjust="spacingAndGlyphs">0</text>
<line x1="274.40" y1="272.30" x2="277.10" y2="272.30" stroke="#2b2b2b" stroke-width="1" stroke-linecap="butt"/>
<text transform="translate(272.60,275.30)" font-size="8.5" text-anchor="end" font-weight="normal" fill="#2e2e2e" stroke="#2e2e2e" stroke-width="0.22" textLength="4.40" lengthAdjust="spacingAndGlyphs">5</text>
<line x1="274.40" y1="235.70" x2="277.10" y2="235.70" stroke="#2b2b2b" stroke-width="1" stroke-linecap="butt"/>
<text transform="translate(272.60,238.70)" font-size="8.5" text-anchor="end" font-weight="normal" fill="#2e2e2e" stroke="#2e2e2e" stroke-width="0.22" textLength="8.80" lengthAdjust="spacingAndGlyphs">10</text>
<line x1="274.40" y1="199.10" x2="277.10" y2="199.10" stroke="#2b2b2b" stroke-width="1" stroke-linecap="butt"/>
<text transform="translate(272.60,202.10)" font-size="8.5" text-anchor="end" font-weight="normal" fill="#2e2e2e" stroke="#2e2e2e" stroke-width="0.22" textLength="8.80" lengthAdjust="spacingAndGlyphs">15</text>
<rect x="285.20" y="226.92" width="10.10" height="81.98" fill="#30a5dc"/>
<line x1="290.25" y1="226.92" x2="290.25" y2="202.03" stroke="#2b2b2b" stroke-width="1.0" stroke-linecap="butt"/>
<line x1="288.55" y1="202.03" x2="291.95" y2="202.03" stroke="#2b2b2b" stroke-width="1.0" stroke-linecap="butt"/>
<rect x="298.80" y="262.05" width="10.20" height="46.85" fill="#3aaa35"/>
<line x1="303.90" y1="262.05" x2="303.90" y2="243.02" stroke="#2b2b2b" stroke-width="1.0" stroke-linecap="butt"/>
<line x1="302.20" y1="243.02" x2="305.60" y2="243.02" stroke="#2b2b2b" stroke-width="1.0" stroke-linecap="butt"/>
<rect x="312.50" y="253.27" width="10.30" height="55.63" fill="#f7941d"/>
<line x1="317.65" y1="253.27" x2="317.65" y2="240.82" stroke="#2b2b2b" stroke-width="1.0" stroke-linecap="butt"/>
<line x1="315.95" y1="240.82" x2="319.35" y2="240.82" stroke="#2b2b2b" stroke-width="1.0" stroke-linecap="butt"/>
<rect x="325.80" y="300.85" width="10.20" height="8.05" fill="#c8102e"/>
<line x1="330.90" y1="300.85" x2="330.90" y2="294.26" stroke="#2b2b2b" stroke-width="1.0" stroke-linecap="butt"/>
<line x1="329.20" y1="294.26" x2="332.60" y2="294.26" stroke="#2b2b2b" stroke-width="1.0" stroke-linecap="butt"/>
<text transform="translate(331.20,294.60)" font-size="7.5" text-anchor="middle" font-weight="normal" fill="#1a1a1a" stroke="#1a1a1a" stroke-width="0.37">*</text>
<text transform="translate(259.20,249.00) rotate(-90)" font-size="9.8" text-anchor="middle" font-weight="normal" fill="#2e2e2e" stroke="#2e2e2e" stroke-width="0.17" textLength="66.00" lengthAdjust="spacingAndGlyphs">% hCD45<tspan dy="-3.5" font-size="6">+</tspan><tspan dy="3.5"> in PBL</tspan></text>
<text transform="translate(293.00,316.30) rotate(-45)" font-size="8.5" text-anchor="end" font-weight="normal" fill="#2e2e2e" stroke="#2e2e2e" stroke-width="0.22" textLength="7.00" lengthAdjust="spacingAndGlyphs">C</text>
<text transform="translate(307.00,316.30) rotate(-45)" font-size="8.5" text-anchor="end" font-weight="normal" fill="#2e2e2e" stroke="#2e2e2e" stroke-width="0.22" textLength="7.50" lengthAdjust="spacingAndGlyphs">Q</text>
<text transform="translate(319.20,316.30) rotate(-45)" font-size="8.5" text-anchor="end" font-weight="normal" fill="#2e2e2e" stroke="#2e2e2e" stroke-width="0.22" textLength="7.50" lengthAdjust="spacingAndGlyphs">N</text>
<text transform="translate(337.00,316.10) rotate(-45)" font-size="8.5" text-anchor="end" font-weight="normal" fill="#2e2e2e" stroke="#2e2e2e" stroke-width="0.22" textLength="16.50" lengthAdjust="spacingAndGlyphs">Q+N</text>
<line x1="395.90" y1="195.40" x2="395.90" y2="310.80" stroke="#3a3a3a" stroke-width="1.4" stroke-linecap="butt"/>
<line x1="393.30" y1="310.10" x2="513.20" y2="310.10" stroke="#3a3a3a" stroke-width="1.4" stroke-linecap="butt"/>
<line x1="393.20" y1="310.10" x2="395.90" y2="310.10" stroke="#2b2b2b" stroke-width="1" stroke-linecap="butt"/>
<text transform="translate(390.10,313.30)" font-size="9" text-anchor="end" font-weight="normal" fill="#2e2e2e" stroke="#2e2e2e" stroke-width="0.17" textLength="4.40" lengthAdjust="spacingAndGlyphs">0</text>
<line x1="393.20" y1="288.20" x2="395.90" y2="288.20" stroke="#2b2b2b" stroke-width="1" stroke-linecap="butt"/>
<text transform="translate(390.10,291.40)" font-size="9" text-anchor="end" font-weight="normal" fill="#2e2e2e" stroke="#2e2e2e" stroke-width="0.17" textLength="8.80" lengthAdjust="spacingAndGlyphs">20</text>
<line x1="393.20" y1="266.30" x2="395.90" y2="266.30" stroke="#2b2b2b" stroke-width="1" stroke-linecap="butt"/>
<text transform="translate(390.10,269.50)" font-size="9" text-anchor="end" font-weight="normal" fill="#2e2e2e" stroke="#2e2e2e" stroke-width="0.17" textLength="8.80" lengthAdjust="spacingAndGlyphs">40</text>
<line x1="393.20" y1="244.40" x2="395.90" y2="244.40" stroke="#2b2b2b" stroke-width="1" stroke-linecap="butt"/>
<text transform="translate(390.10,247.60)" font-size="9" text-anchor="end" font-weight="normal" fill="#2e2e2e" stroke="#2e2e2e" stroke-width="0.17" textLength="8.80" lengthAdjust="spacingAndGlyphs">60</text>
<line x1="393.20" y1="222.50" x2="395.90" y2="222.50" stroke="#2b2b2b" stroke-width="1" stroke-linecap="butt"/>
<text transform="translate(390.10,225.70)" font-size="9" text-anchor="end" font-weight="normal" fill="#2e2e2e" stroke="#2e2e2e" stroke-width="0.17" textLength="8.80" lengthAdjust="spacingAndGlyphs">80</text>
<line x1="393.20" y1="200.60" x2="395.90" y2="200.60" stroke="#2b2b2b" stroke-width="1" stroke-linecap="butt"/>
<text transform="translate(390.10,203.80)" font-size="9" text-anchor="end" font-weight="normal" fill="#2e2e2e" stroke="#2e2e2e" stroke-width="0.17" textLength="13.20" lengthAdjust="spacingAndGlyphs">100</text>
<line x1="395.80" y1="310.10" x2="395.80" y2="312.30" stroke="#2b2b2b" stroke-width="1" stroke-linecap="butt"/>
<text transform="translate(399.40,318.00) rotate(-45)" font-size="9" text-anchor="end" font-weight="normal" fill="#2e2e2e" stroke="#2e2e2e" stroke-width="0.17" textLength="3.95" lengthAdjust="spacingAndGlyphs">0</text>
<line x1="408.69" y1="310.10" x2="408.69" y2="312.30" stroke="#2b2b2b" stroke-width="1" stroke-linecap="butt"/>
<text transform="translate(412.29,318.00) rotate(-45)" font-size="9" text-anchor="end" font-weight="normal" fill="#2e2e2e" stroke="#2e2e2e" stroke-width="0.17" textLength="7.90" lengthAdjust="spacingAndGlyphs">20</text>
<line x1="421.58" y1="310.10" x2="421.58" y2="312.30" stroke="#2b2b2b" stroke-width="1" stroke-linecap="butt"/>
<text transform="translate(425.18,318.00) rotate(-45)" font-size="9" text-anchor="end" font-weight="normal" fill="#2e2e2e" stroke="#2e2e2e" stroke-width="0.17" textLength="7.90" lengthAdjust="spacingAndGlyphs">40</text>
<line x1="434.47" y1="310.10" x2="434.47" y2="312.30" stroke="#2b2b2b" stroke-width="1" stroke-linecap="butt"/>
<text transform="translate(438.07,318.00) rotate(-45)" font-size="9" text-anchor="end" font-weight="normal" fill="#2e2e2e" stroke="#2e2e2e" stroke-width="0.17" textLength="7.90" lengthAdjust="spacingAndGlyphs">60</text>
<line x1="447.36" y1="310.10" x2="447.36" y2="312.30" stroke="#2b2b2b" stroke-width="1" stroke-linecap="butt"/>
<text transform="translate(450.96,318.00) rotate(-45)" font-size="9" text-anchor="end" font-weight="normal" fill="#2e2e2e" stroke="#2e2e2e" stroke-width="0.17" textLength="7.90" lengthAdjust="spacingAndGlyphs">80</text>
<line x1="460.25" y1="310.10" x2="460.25" y2="312.30" stroke="#2b2b2b" stroke-width="1" stroke-linecap="butt"/>
<text transform="translate(463.85,318.00) rotate(-45)" font-size="9" text-anchor="end" font-weight="normal" fill="#2e2e2e" stroke="#2e2e2e" stroke-width="0.17" textLength="11.85" lengthAdjust="spacingAndGlyphs">100</text>
<line x1="473.14" y1="310.10" x2="473.14" y2="312.30" stroke="#2b2b2b" stroke-width="1" stroke-linecap="butt"/>
<text transform="translate(476.74,318.00) rotate(-45)" font-size="9" text-anchor="end" font-weight="normal" fill="#2e2e2e" stroke="#2e2e2e" stroke-width="0.17" textLength="11.85" lengthAdjust="spacingAndGlyphs">120</text>
<line x1="486.03" y1="310.10" x2="486.03" y2="312.30" stroke="#2b2b2b" stroke-width="1" stroke-linecap="butt"/>
<text transform="translate(489.63,318.00) rotate(-45)" font-size="9" text-anchor="end" font-weight="normal" fill="#2e2e2e" stroke="#2e2e2e" stroke-width="0.17" textLength="11.85" lengthAdjust="spacingAndGlyphs">140</text>
<line x1="498.92" y1="310.10" x2="498.92" y2="312.30" stroke="#2b2b2b" stroke-width="1" stroke-linecap="butt"/>
<text transform="translate(502.52,318.00) rotate(-45)" font-size="9" text-anchor="end" font-weight="normal" fill="#2e2e2e" stroke="#2e2e2e" stroke-width="0.17" textLength="11.85" lengthAdjust="spacingAndGlyphs">160</text>
<line x1="511.81" y1="310.10" x2="511.81" y2="312.30" stroke="#2b2b2b" stroke-width="1" stroke-linecap="butt"/>
<text transform="translate(515.41,318.00) rotate(-45)" font-size="9" text-anchor="end" font-weight="normal" fill="#2e2e2e" stroke="#2e2e2e" stroke-width="0.17" textLength="11.85" lengthAdjust="spacingAndGlyphs">180</text>
<polyline points="395.80,200.60 426.80,200.60 426.80,222.50 428.50,222.50 428.50,266.30 430.00,266.30 430.00,288.20 434.60,288.20 434.60,310.10" fill="none" stroke="#4ab0e0" stroke-width="1.1" stroke-linejoin="miter"/>
<polyline points="395.80,200.60 430.30,200.60 430.30,222.50 431.50,222.50 431.50,244.40 435.60,244.40 435.60,255.35 436.00,255.35 436.00,266.30 438.60,266.30 438.60,288.20 441.10,288.20 441.10,299.15 448.40,299.15 448.40,310.10" fill="none" stroke="#f39a2e" stroke-width="1.1" stroke-linejoin="miter"/>
<polyline points="395.80,200.60 433.20,200.60 433.20,222.50 437.40,222.50 437.40,244.40 440.60,244.40 440.60,255.35 441.50,255.35 441.50,266.30 445.60,266.30 445.60,277.25 447.50,277.25 447.50,299.15 451.30,299.15 451.30,310.10" fill="none" stroke="#4daf48" stroke-width="1.1" stroke-linejoin="miter"/>
<polyline points="395.80,200.60 455.10,200.60 455.10,211.55 459.70,211.55 459.70,222.50 463.30,222.50 463.30,233.45 465.80,233.45 465.80,244.40 483.10,244.40 483.10,255.35 496.40,255.35 496.40,266.30 499.00,266.30 499.00,288.20 500.00,288.20 500.00,299.15 506.10,299.15 506.10,310.10" fill="none" stroke="#c4264a" stroke-width="1.1" stroke-linejoin="miter"/>
<text transform="translate(501.70,306.00)" font-size="8.5" text-anchor="middle" font-weight="normal" fill="#222" stroke="#222" stroke-width="0.32">*</text>
<text transform="translate(435.10,336.30)" font-size="9.6" text-anchor="start" font-weight="normal" fill="#2e2e2e" stroke="#2e2e2e" stroke-width="0.17" textLength="40.90" lengthAdjust="spacingAndGlyphs">Time (days)</text>
<text transform="translate(371.50,253.40) rotate(-90)" font-size="9.6" text-anchor="middle" font-weight="normal" fill="#2e2e2e" stroke="#2e2e2e" stroke-width="0.17" textLength="26.60" lengthAdjust="spacingAndGlyphs">Survival</text>
<line x1="414.30" y1="346.90" x2="429.90" y2="346.90" stroke="#5ab6e2" stroke-width="1.5" stroke-linecap="butt"/>
<text transform="translate(432.50,350.00)" font-size="9" text-anchor="start" font-weight="normal" fill="#2e2e2e" stroke="#2e2e2e" stroke-width="0.08" textLength="28.90" lengthAdjust="spacingAndGlyphs">Control</text>
<line x1="414.30" y1="358.80" x2="429.90" y2="358.80" stroke="#55aa55" stroke-width="1.5" stroke-linecap="butt"/>
<text transform="translate(432.50,361.90)" font-size="9" text-anchor="start" font-weight="normal" fill="#2e2e2e" stroke="#2e2e2e" stroke-width="0.08" textLength="41.80" lengthAdjust="spacingAndGlyphs">Quizartinib</text>
<line x1="414.30" y1="371.10" x2="429.90" y2="371.10" stroke="#f0a452" stroke-width="1.5" stroke-linecap="butt"/>
<text transform="translate(432.50,374.20)" font-size="9" text-anchor="start" font-weight="normal" fill="#2e2e2e" stroke="#2e2e2e" stroke-width="0.08" textLength="17.10" lengthAdjust="spacingAndGlyphs">NVB</text>
<line x1="414.30" y1="383.00" x2="429.90" y2="383.00" stroke="#b3325c" stroke-width="1.5" stroke-linecap="butt"/>
<text transform="translate(432.50,386.10)" font-size="9" text-anchor="start" font-weight="normal" fill="#2e2e2e" stroke="#2e2e2e" stroke-width="0.08" textLength="63.80" lengthAdjust="spacingAndGlyphs">Quizartinib+NVB*</text>
</svg></body></html>
